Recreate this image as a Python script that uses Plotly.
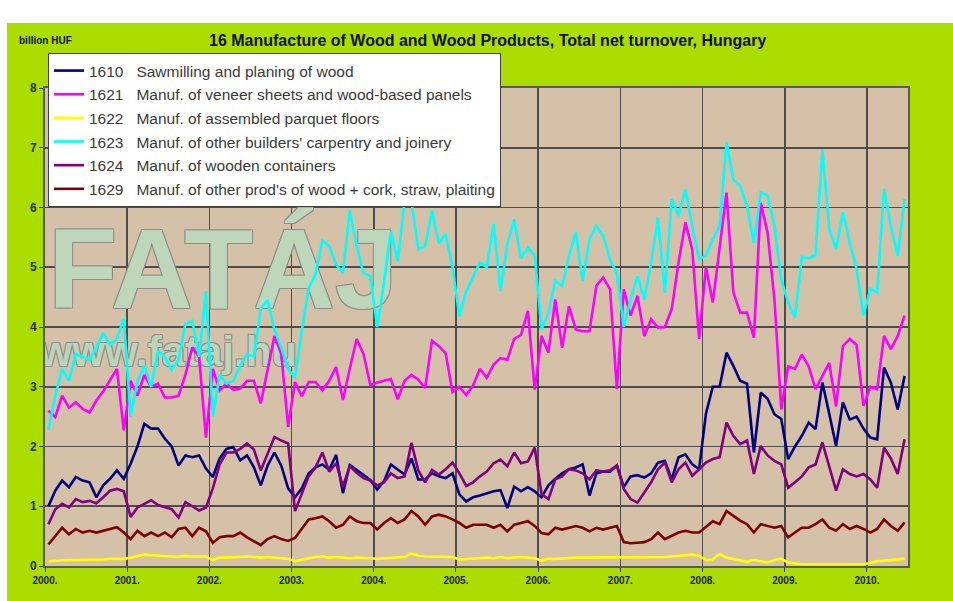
import plotly.graph_objects as go

# ---------------- data (billion HUF, monthly Jan 2000 - Jun 2010) ----------------
year_labels = ["2000.", "2001.", "2002.", "2003.", "2004.", "2005.",
               "2006.", "2007.", "2008.", "2009.", "2010."]

s1610 = [1.0, 1.26, 1.43, 1.32, 1.49, 1.43, 1.4, 1.15, 1.35, 1.46, 1.6, 1.46,
         1.71, 2.0, 2.38, 2.3, 2.3, 2.13, 2.0, 1.68, 1.85, 1.82, 1.85, 1.63,
         1.49, 1.8, 1.96, 1.99, 1.77, 1.85, 1.65, 1.35, 1.68, 1.9, 1.68, 1.3,
         1.15, 1.3, 1.55, 1.65, 1.7, 1.61, 1.86, 1.22, 1.69, 1.61, 1.53, 1.44,
         1.28, 1.42, 1.7, 1.62, 1.53, 1.8, 1.45, 1.45, 1.55, 1.5, 1.47, 1.55,
         1.2, 1.08, 1.15, 1.18, 1.22, 1.25, 1.27, 0.97, 1.33, 1.25, 1.32, 1.25,
         1.15, 1.35, 1.46, 1.55, 1.62, 1.65, 1.7, 1.18, 1.55, 1.58, 1.58, 1.68,
         1.32, 1.5, 1.52, 1.48, 1.55, 1.73, 1.76, 1.45, 1.82, 1.87, 1.7, 1.62,
         2.55, 3.0, 3.0, 3.57, 3.35, 3.1, 3.05, 1.9, 2.9, 2.8, 2.54, 2.46,
         1.79, 2.0, 2.18, 2.4, 2.29, 3.07, 2.55, 2.01, 2.74, 2.45, 2.5, 2.3,
         2.15, 2.12, 3.32, 3.07, 2.62, 3.18]

s1621 = [2.6, 2.49, 2.85, 2.65, 2.74, 2.63, 2.57, 2.77, 2.92, 3.1, 3.3, 2.27,
         3.1, 2.85, 3.2, 3.0, 3.05, 2.82, 2.82, 2.85, 3.2, 3.66, 3.5, 2.15,
         3.3, 2.94, 3.05, 2.95, 2.97, 3.1, 3.1, 2.72, 3.3, 3.85, 3.55, 2.33,
         3.08, 2.84, 3.08, 3.08, 2.94, 3.1, 3.33, 2.78, 3.3, 3.8, 3.55, 3.03,
         3.07, 3.1, 3.13, 2.79, 3.1, 3.2, 3.12, 2.98, 3.77, 3.68, 3.56, 2.91,
         3.0, 2.86, 3.02, 3.3, 3.15, 3.37, 3.48, 3.45, 3.8, 3.87, 4.27, 2.95,
         3.85, 3.57, 4.46, 3.65, 4.35, 3.96, 3.93, 3.93, 4.69, 4.83, 4.63, 2.96,
         4.63, 4.19, 4.52, 3.85, 4.13, 3.99, 4.0, 4.3, 5.08, 5.75, 5.3, 3.8,
         5.0, 4.41, 5.3, 6.25, 4.58, 4.24, 4.24, 3.82, 6.08, 5.58, 4.46, 2.62,
         3.34, 3.3, 3.54, 3.34, 2.96, 3.18, 3.4, 2.67, 3.68, 3.8, 3.7, 2.68,
         3.0, 2.96, 3.85, 3.63, 3.85, 4.19]

s1622 = [0.08, 0.09, 0.09, 0.1, 0.1, 0.1, 0.11, 0.11, 0.11, 0.12, 0.12, 0.12,
         0.14, 0.16, 0.19, 0.18, 0.17, 0.17, 0.16, 0.16, 0.17, 0.16, 0.16, 0.16,
         0.1, 0.14, 0.14, 0.15, 0.15, 0.16, 0.15, 0.14, 0.15, 0.14, 0.13, 0.12,
         0.08, 0.11, 0.13, 0.15, 0.16, 0.14, 0.15, 0.14, 0.13, 0.14, 0.14, 0.13,
         0.12, 0.13, 0.14, 0.14, 0.15, 0.21, 0.17, 0.16, 0.16, 0.15, 0.15, 0.15,
         0.11, 0.12, 0.13, 0.13, 0.14, 0.13, 0.15, 0.13, 0.14, 0.15, 0.14, 0.13,
         0.09, 0.12, 0.12, 0.13, 0.13, 0.14, 0.14, 0.14, 0.14, 0.15, 0.15, 0.15,
         0.14, 0.14, 0.14, 0.14, 0.15, 0.14, 0.15, 0.16, 0.17, 0.18, 0.19, 0.17,
         0.1, 0.11, 0.2, 0.14, 0.12, 0.1, 0.07, 0.1, 0.08, 0.06, 0.1, 0.12,
         0.06, 0.04, 0.03, 0.03, 0.03, 0.03, 0.03, 0.03, 0.03, 0.03, 0.03, 0.03,
         0.05, 0.08, 0.09, 0.1, 0.11, 0.12]

s1623 = [2.28, 2.85, 3.3, 3.1, 3.55, 3.5, 3.45, 3.65, 3.9, 3.7, 3.8, 4.14,
         2.5, 3.1, 3.35, 3.0, 3.6, 3.5, 3.28, 3.45, 4.05, 4.1, 3.5, 4.6,
         2.5, 3.2, 3.05, 3.1, 3.35, 3.55, 3.5, 4.3, 4.45, 3.95, 3.65, 3.3,
         3.15, 3.95, 4.65, 4.88, 5.45, 5.35, 5.05, 4.9, 5.95, 5.35, 4.9, 4.85,
         4.0, 4.75, 5.6, 5.1, 6.1, 6.1, 5.3, 5.35, 5.95, 5.4, 5.55, 5.0,
         4.18, 4.6, 4.85, 5.08, 5.0, 5.72, 4.6, 5.38, 5.8, 5.15, 5.33, 5.2,
         3.96, 4.24, 4.77, 4.69, 5.19, 5.58, 4.77, 5.47, 5.69, 5.52, 5.13, 4.9,
         4.0, 4.46, 4.85, 4.46, 5.08, 5.83, 4.57, 6.14, 5.86, 6.3, 5.69, 5.13,
         5.2, 5.47, 5.69, 7.1, 6.47, 6.36, 6.03, 5.41, 6.25, 6.2, 5.69, 4.8,
         4.41, 4.16, 5.17, 5.15, 5.2, 6.97, 5.64, 5.3, 5.92, 5.4, 4.97, 4.19,
         4.64, 4.58, 6.31, 5.69, 5.19, 6.14]

s1624 = [0.7, 0.95, 1.04, 0.98, 1.12, 1.07, 1.09, 1.05, 1.15, 1.26, 1.29, 1.25,
         0.82, 0.98, 1.04, 1.1, 1.02, 0.98, 0.95, 0.81, 1.07, 1.0, 0.93, 0.98,
         1.3, 1.7, 1.9, 1.9, 1.96, 2.05, 1.95, 1.6, 1.88, 2.16, 2.1, 2.05,
         0.92, 1.22, 1.5, 1.65, 1.9, 1.58, 1.72, 1.33, 1.67, 1.56, 1.47, 1.43,
         1.35, 1.4, 1.55, 1.47, 1.5, 2.06, 1.6, 1.4, 1.61, 1.53, 1.62, 1.73,
         1.55, 1.34, 1.4, 1.5, 1.58, 1.72, 1.78, 1.67, 1.9, 1.72, 1.75, 1.98,
         1.2, 1.12, 1.45, 1.5, 1.62, 1.6, 1.55, 1.45, 1.6, 1.58, 1.6, 1.68,
         1.29, 1.12, 1.06, 1.23, 1.4, 1.62, 1.73, 1.4, 1.62, 1.73, 1.51, 1.62,
         1.73, 1.79, 1.82, 2.4, 2.18, 2.04, 2.1, 1.54, 2.01, 1.85, 1.76, 1.7,
         1.31, 1.4, 1.5, 1.65, 1.7, 2.07, 1.65, 1.26, 1.62, 1.54, 1.5, 1.54,
         1.45, 1.31, 1.98, 1.8, 1.54, 2.12]

s1629 = [0.36, 0.5, 0.64, 0.53, 0.62, 0.56, 0.59, 0.56, 0.59, 0.62, 0.65, 0.56,
         0.45, 0.59, 0.5, 0.56, 0.5, 0.56, 0.48, 0.62, 0.64, 0.5, 0.64, 0.58,
         0.39, 0.48, 0.5, 0.5, 0.56, 0.48, 0.42, 0.35, 0.45, 0.5, 0.45, 0.42,
         0.47, 0.62, 0.78, 0.8, 0.83, 0.75, 0.64, 0.69, 0.83, 0.75, 0.72, 0.72,
         0.61, 0.72, 0.8, 0.72, 0.78, 0.92, 0.83, 0.69, 0.83, 0.86, 0.83, 0.78,
         0.72, 0.64, 0.69, 0.69, 0.69, 0.64, 0.69, 0.58, 0.69, 0.72, 0.75, 0.67,
         0.55, 0.53, 0.64, 0.61, 0.64, 0.67, 0.64, 0.58, 0.64, 0.61, 0.64, 0.67,
         0.4, 0.38, 0.39, 0.4, 0.45, 0.56, 0.45, 0.5, 0.56, 0.59, 0.56, 0.56,
         0.65, 0.75, 0.7, 0.92, 0.84, 0.76, 0.7, 0.56, 0.7, 0.67, 0.64, 0.67,
         0.48, 0.56, 0.64, 0.64, 0.7, 0.78, 0.64, 0.59, 0.7, 0.62, 0.67, 0.62,
         0.56, 0.62, 0.78, 0.67, 0.59, 0.73]

codes = ["1610", "1621", "1622", "1623", "1624", "1629"]
names = ["Sawmilling and planing of wood",
         "Manuf. of veneer sheets and wood-based panels",
         "Manuf. of assembled parquet floors",
         "Manuf. of other builders' carpentry and joinery",
         "Manuf. of wooden containers",
         "Manuf. of other prod's of wood + cork, straw, plaiting"]
values = [s1610, s1621, s1622, s1623, s1624, s1629]
colors = ["#000080", "#FF00FF", "#FFFF00", "#00FFFF", "#800080", "#800000"]

FONT = "Arial, Liberation Sans, sans-serif"
n = len(s1610)
xs = [i + 0.5 for i in range(n)]          # points centred in their month
tickpos = [12 * k for k in range(len(year_labels))]

fig = go.Figure()

# watermark (drawn first, below the data lines)
outline = ("-1px -1px 0 #8c8c8c, 1px -1px 0 #8c8c8c, "
           "-1px 1px 0 #8c8c8c, 1px 1px 0 #8c8c8c")
fig.add_trace(go.Scatter(
    x=[26.0], y=[4.79], mode="text", text=["FATÁJ"],
    textposition="middle center", hoverinfo="skip", showlegend=False,
    textfont=dict(family=FONT, size=113, color="rgba(194,221,190,0.93)",
                  weight="bold", shadow=outline)))
fig.add_trace(go.Scatter(
    x=[18.0], y=[3.53], mode="text", text=["www.fataj.hu"],
    textposition="middle center", hoverinfo="skip", showlegend=False,
    textfont=dict(family=FONT, size=42, color="rgba(194,221,190,0.93)",
                  weight="bold", shadow=outline)))

gap = "\u00a0" * 3
for code, name, vals, col in zip(codes, names, values, colors):
    fig.add_trace(go.Scatter(
        x=xs, y=vals, mode="lines", name=code + gap + name,
        legendgroup=code, line=dict(color=col, width=2.6),
        hoverinfo="skip"))

W, H = 953, 601
L, R, T, B = 45, 45, 88, 35
pw, ph = W - L - R, H - T - B


def px2x(px):
    return (px - L) / pw


def py2y(py):
    return (H - B - py) / ph


fig.update_layout(
    width=W, height=H, autosize=False,
    margin=dict(l=L, r=R, t=T, b=B),
    paper_bgcolor="#ABDD00",
    plot_bgcolor="#D5C0A8",
    showlegend=True,
    legend=dict(x=px2x(48), y=py2y(53), xanchor="left", yanchor="top",
                bgcolor="white", bordercolor="#404040", borderwidth=1,
                font=dict(family=FONT, size=15.5, color="#3a3a3a"),
                tracegroupgap=0.5, itemwidth=30),
    xaxis=dict(range=[0, n], tickvals=tickpos, ticktext=year_labels,
               showgrid=True, gridcolor="#4d4d4d", gridwidth=1.6,
               showline=True, mirror=True, linecolor="#5a5a5a", linewidth=2,
               ticks="outside", ticklen=4, tickcolor="#333",
               tickfont=dict(family=FONT, size=10, color="#222", weight="bold"),
               zeroline=False, fixedrange=True),
    yaxis=dict(range=[0, 8], dtick=1, tick0=0,
               showgrid=True, gridcolor="#4d4d4d", gridwidth=1.6,
               showline=True, mirror=True, linecolor="#5a5a5a", linewidth=2,
               ticks="outside", ticklen=4, tickcolor="#333",
               tickfont=dict(family=FONT, size=12, color="#2b2b00", weight="bold"),
               zeroline=False, fixedrange=True),
    annotations=[
        dict(text="<b>16 Manufacture of Wood and Wood Products, Total net turnover, Hungary</b>",
             x=px2x(487), y=py2y(41), xref="paper", yref="paper",
             xanchor="center", yanchor="middle", showarrow=False,
             font=dict(family=FONT, size=16, color="#111")),
        dict(text="<b>billion HUF</b>", x=px2x(17), y=py2y(41),
             xref="paper", yref="paper", xanchor="left", yanchor="middle",
             showarrow=False, font=dict(family=FONT, size=10, color="#111")),
    ],
    shapes=[
        dict(type="rect", xref="paper", yref="paper", layer="below",
             x0=px2x(-5), x1=px2x(W + 5), y0=py2y(23), y1=py2y(-5),
             fillcolor="white", line=dict(width=0)),
        dict(type="rect", xref="paper", yref="paper", layer="below",
             x0=px2x(-5), x1=px2x(7), y0=py2y(H + 5), y1=py2y(-5),
             fillcolor="white", line=dict(width=0)),
    ],
)

fig.write_html("out.html",
               config={"displayModeBar": False, "staticPlot": True},
               post_script="document.body.style.margin='0';"
                           "document.body.style.overflow='hidden';")
